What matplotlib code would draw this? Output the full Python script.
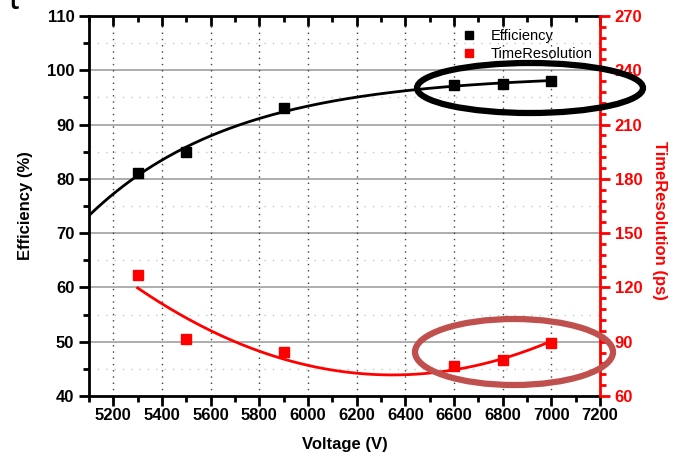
import numpy as np
import matplotlib.pyplot as plt
from matplotlib.patches import Ellipse
from matplotlib.ticker import MultipleLocator

plt.rcParams['font.family'] = ['Liberation Sans', 'DejaVu Sans']

voltage = [5300, 5500, 5900, 6600, 6800, 7000]
efficiency = [81.0, 85.0, 93.0, 97.2, 97.5, 98.0]
time_res = [127.0, 91.5, 84.3, 76.6, 79.9, 89.3]

# saturating exponential fit for efficiency: y = A + B*exp(-(x-5300)/t)
vx = np.array(voltage, dtype=float)
vy = np.array(efficiency)
best = None
for t in np.linspace(100, 2000, 400):
    M = np.column_stack([np.ones_like(vx), np.exp(-(vx - 5300) / t)])
    coef, res, _, _ = np.linalg.lstsq(M, vy, rcond=None)
    err = np.sum((M @ coef - vy) ** 2)
    if best is None or err < best[0]:
        best = (err, t, coef)
_, tau, (A, B) = best

# quadratic fit for time resolution
tr_fit = np.polyfit(voltage, time_res, 2)
xe = np.linspace(5100, 7000, 200)
xt = np.linspace(5300, 7000, 200)

fig = plt.figure(figsize=(6.73, 4.59), dpi=100)
ax = fig.add_axes([0.1322, 0.1373, 0.7593, 0.8278])
ax2 = ax.twinx()

ax.set_xlim(5100, 7200)
ax.set_ylim(40, 110)
ax2.set_ylim(60, 270)

ax.xaxis.set_major_locator(MultipleLocator(200))
ax.xaxis.set_minor_locator(MultipleLocator(100))
ax.yaxis.set_major_locator(MultipleLocator(10))
ax.yaxis.set_minor_locator(MultipleLocator(5))
ax2.yaxis.set_major_locator(MultipleLocator(30))
ax2.yaxis.set_minor_locator(MultipleLocator(6))

# grid
for v in range(50, 110, 10):
    ax.axhline(v, color='#a0a0a0', lw=1.2, zorder=0)
for v in range(45, 110, 10):
    ax.axhline(v, color='#c8c8c8', lw=1.0, ls=(0, (1, 5)), zorder=0)
for v in range(5200, 7200, 200):
    ax.axvline(v, color='#404040', lw=1.0, ls=(0, (1, 3.5)), zorder=0)

ax.plot(xe, A + B * np.exp(-(xe - 5300) / tau), color='black', lw=2, zorder=3)
ax.plot(voltage, efficiency, 's', color='black', ms=7, label='Efficiency', zorder=4)
ax2.plot(xt, np.polyval(tr_fit, xt), color='red', lw=2, zorder=3)
ax2.plot(voltage, time_res, 's', color='red', ms=7, label='TimeResolution', zorder=4)

# ticks and spines
for s in ['left', 'bottom', 'top']:
    ax.spines[s].set_linewidth(2)
ax.spines['right'].set_visible(False)
ax2.spines['left'].set_visible(False)
ax2.spines['top'].set_visible(False)
ax2.spines['bottom'].set_visible(False)
ax2.spines['right'].set_color('red')
ax2.spines['right'].set_linewidth(2)

ax.tick_params(axis='both', which='major', length=7, width=2, direction='out', labelsize=12)
ax.tick_params(axis='both', which='minor', length=4, width=2, direction='out')
ax.tick_params(axis='x', pad=2)
for lab in ax.get_xticklabels() + ax.get_yticklabels():
    lab.set_fontweight('bold')
ax2.tick_params(axis='y', which='major', length=7, width=2, colors='red', labelsize=12)
ax2.tick_params(axis='y', which='minor', length=4, width=2, colors='red')
for lab in ax2.get_yticklabels():
    lab.set_fontweight('bold')
# top ticks inward
ax.xaxis.set_tick_params(which='both', top=True)
for t in ax.xaxis.get_major_ticks() + ax.xaxis.get_minor_ticks():
    t.tick2line.set_marker(3)

ax.set_xlabel('Voltage (V)', fontsize=12, fontweight='bold', labelpad=10)
ax.set_ylabel('Efficiency (%)', fontsize=12, fontweight='bold', labelpad=10)
fig.text(660 / 673, 1 - 220 / 459, 'TimeResolution (ps)', fontsize=12, fontweight='bold',
         color='red', rotation=270, ha='center', va='center')

h1, l1 = ax.get_legend_handles_labels()
h2, l2 = ax2.get_legend_handles_labels()
ax2.legend(h1 + h2, l1 + l2, loc='upper right', frameon=False, fontsize=10.5,
           markerscale=0.9, handletextpad=0.5, labelspacing=0.25,
           bbox_to_anchor=(1.012, 1.0))

# highlight ellipses (pixel positions in figure coordinates)
fig.patches.append(Ellipse((530 / 673, 1 - 88 / 459), 226 / 673, 50 / 459,
                           transform=fig.transFigure, fill=False, ec='black', lw=4.5, zorder=10))
fig.patches.append(Ellipse((514 / 673, 1 - 352 / 459), 198 / 673, 66 / 459,
                           transform=fig.transFigure, fill=False, ec='#c0504d', lw=4.5, zorder=10))

fig.text(0.012, 1.04, 't', fontsize=26, va='top', ha='left')

fig.savefig('out.png', dpi=100)
